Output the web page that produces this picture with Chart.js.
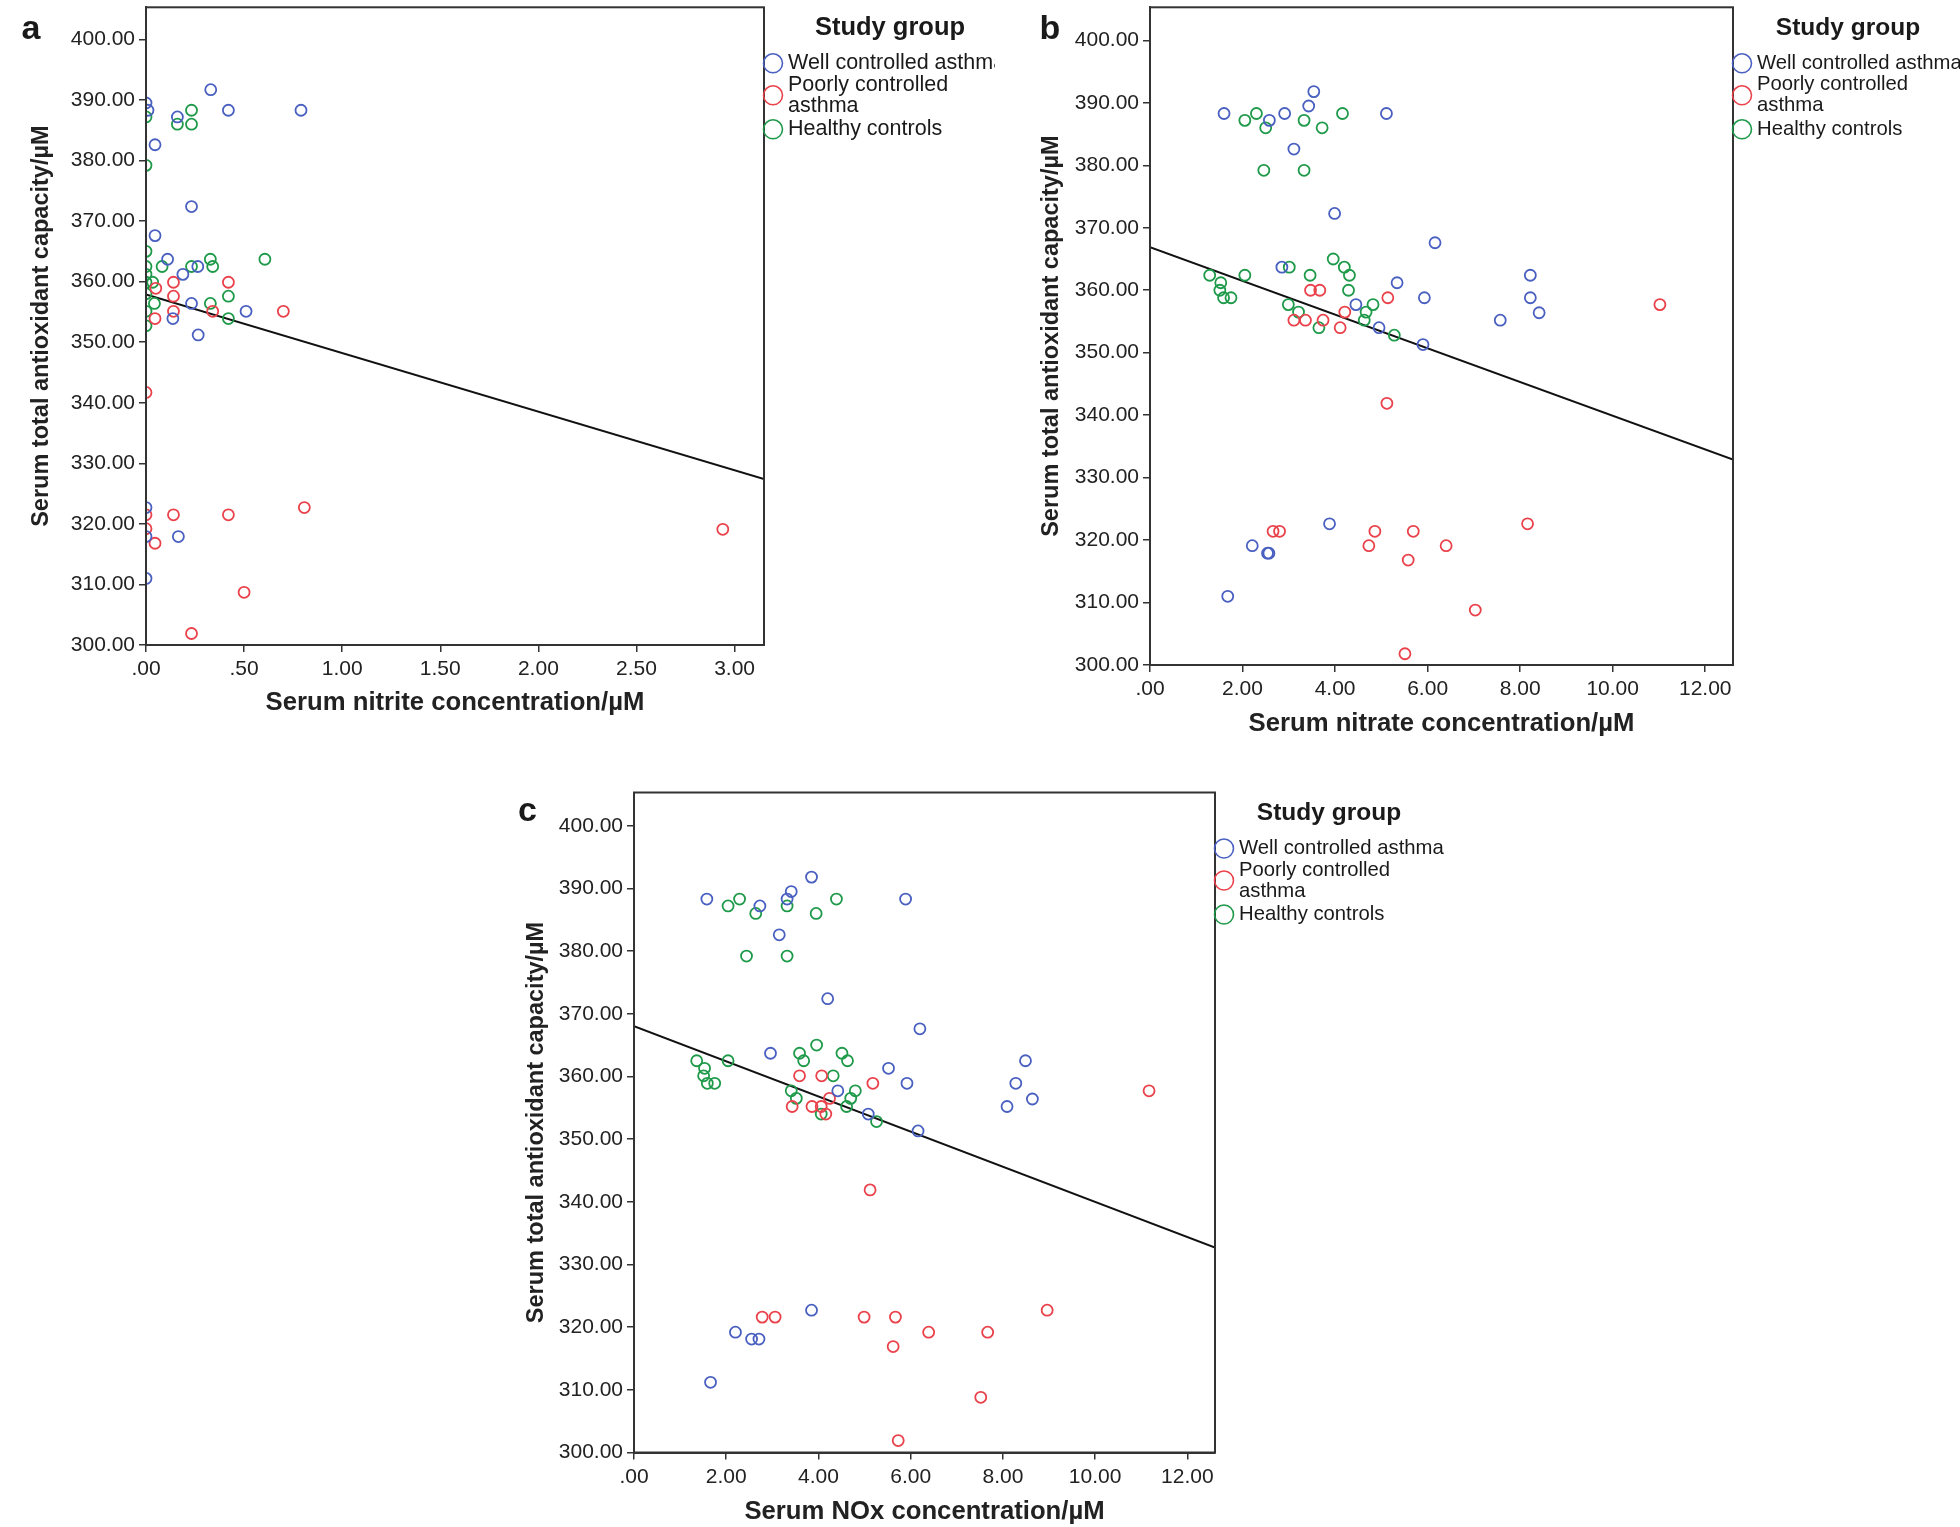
<!DOCTYPE html>
<html>
<head>
<meta charset="utf-8">
<title>Serum TAC vs nitrite, nitrate and NOx</title>
<script src="https://cdn.jsdelivr.net/npm/chart.js@4.4.1/dist/chart.umd.min.js"></script>
<style>
  html, body { margin: 0; padding: 0; background: #fff; }
  #page { position: relative; width: 1960px; height: 1527px; overflow: hidden; background: #fff; }
  canvas { position: absolute; }
</style>
</head>
<body>
<div id="page">
  <canvas id="chartA" width="995" height="740" style="left:0px;top:0px"></canvas>
  <canvas id="chartB" width="955" height="760" style="left:1005px;top:0px"></canvas>
  <canvas id="chartC" width="1000" height="747" style="left:500px;top:780px"></canvas>
</div>
<script>
// ---- values ----
const legendNames = ['Well controlled asthma', ['Poorly controlled', 'asthma'], 'Healthy controls'];
const groupColors = ['#4a60c0', '#e9424b', '#1f9a4a'];

const yTicks = [300, 310, 320, 330, 340, 350, 360, 370, 380, 390, 400];
const yRange = [300, 405.3];
const yTitle = 'Serum total antioxidant capacity/µM';

// panel a: nitrite
const xTicksA = [0, 0.5, 1, 1.5, 2, 2.5, 3];
const xRangeA = [0, 3.15];
const fitLineA = [357.9, 327.4];
const wellXA = [0.33, 0.42, 0.79, 0.00, 0.01, 0.16, 0.046, 0.232, 0.046, 0.11, 0.264, 0.188, 0.232, 0.137, 0.51, 0.266, 0.00, 0.00, 0.165, 0.00];
const wellYA = [391.7, 388.3, 388.3, 389.5, 388.3, 387.2, 382.6, 372.4, 367.6, 363.7, 362.5, 361.2, 356.4, 353.9, 355.1, 351.2, 322.7, 317.9, 317.9, 311.0];
const poorXA = [0.42, 0.14, 0.14, 0.05, 0.14, 0.34, 0.70, 0.046, 0.00, 0.00, 0.14, 0.42, 0.807, 0.00, 0.046, 0.50, 0.232, 2.94];
const poorYA = [359.9, 359.9, 357.6, 358.9, 355.1, 355.1, 355.1, 353.9, 341.7, 321.5, 321.5, 321.5, 322.7, 319.2, 316.8, 308.7, 301.9, 319.1];
const healthyXA = [0.232, 0.16, 0.232, 0.00, 0.00, 0.00, 0.00, 0.00, 0.00, 0.00, 0.034, 0.043, 0.00, 0.00, 0.082, 0.232, 0.328, 0.34, 0.606, 0.42, 0.328, 0.42];
const healthyYA = [388.3, 386.0, 386.0, 387.2, 379.2, 365.0, 362.5, 361.2, 359.9, 358.0, 359.9, 356.4, 355.1, 352.7, 362.5, 362.5, 363.7, 362.5, 363.7, 357.6, 356.4, 353.9];

// panel b: nitrate
const xTicksBC = [0, 2, 4, 6, 8, 10, 12];
const xRangeB = [0, 12.6];
const fitLineB = [366.9, 332.9];
const wellXB = [1.60, 2.58, 2.91, 3.43, 3.54, 5.11, 3.11, 3.99, 6.16, 2.85, 5.34, 4.45, 5.93, 4.95, 5.90, 3.88, 2.21, 2.54, 2.57, 1.68, 8.22, 8.22, 8.41, 7.57];
const wellYB = [388.3, 387.2, 388.3, 389.5, 391.8, 388.3, 382.6, 372.3, 367.6, 363.7, 361.2, 357.7, 358.8, 354.0, 351.3, 322.6, 319.1, 317.9, 317.9, 311.0, 362.4, 358.8, 356.4, 355.2];
const poorXB = [3.47, 3.67, 5.14, 4.21, 3.11, 3.36, 3.74, 4.11, 5.12, 2.66, 2.80, 4.86, 5.69, 4.73, 6.40, 5.58, 5.51, 11.02, 8.16, 7.03];
const poorYB = [360.0, 360.0, 358.8, 356.5, 355.2, 355.2, 355.2, 354.0, 341.9, 321.4, 321.4, 321.4, 321.4, 319.1, 319.1, 316.8, 301.8, 357.7, 322.6, 308.8];
const healthyXB = [2.05, 2.30, 2.50, 3.33, 3.72, 4.16, 2.46, 3.33, 3.96, 3.01, 4.20, 4.31, 3.46, 2.05, 1.29, 1.53, 1.51, 1.59, 1.75, 4.29, 2.99, 3.21, 3.65, 4.82, 4.67, 4.63, 5.28];
const healthyYB = [387.2, 388.3, 386.0, 387.2, 386.0, 388.3, 379.2, 379.2, 365.0, 363.7, 363.7, 362.4, 362.4, 362.4, 362.4, 361.2, 360.0, 358.8, 358.8, 360.0, 357.7, 356.5, 354.0, 357.7, 356.5, 355.2, 352.8];

// panel c: NOx
const xRangeC = [0, 12.6];
const fitLineC = [368.0, 332.7];
const wellXC = [1.58, 2.73, 3.32, 3.41, 3.85, 5.89, 3.15, 4.20, 6.20, 2.96, 5.52, 4.42, 5.92, 5.08, 6.16, 3.85, 2.20, 2.55, 2.71, 1.66, 8.49, 8.28, 8.64, 8.09];
const wellYC = [388.3, 387.2, 388.3, 389.5, 391.8, 388.3, 382.6, 372.4, 367.6, 363.7, 361.3, 357.7, 358.9, 354.0, 351.3, 322.7, 319.2, 318.1, 318.1, 311.2, 362.5, 358.9, 356.4, 355.2];
const poorXC = [3.59, 4.07, 5.18, 4.24, 3.43, 3.86, 4.06, 4.16, 5.12, 2.78, 3.06, 4.99, 5.67, 6.39, 5.62, 5.73, 11.17, 7.67, 8.96, 7.52];
const poorYC = [360.1, 360.1, 358.9, 356.5, 355.2, 355.2, 355.2, 354.0, 341.9, 321.6, 321.6, 321.6, 321.6, 319.2, 316.9, 301.9, 357.7, 319.2, 322.7, 308.8];
const healthyXC = [2.04, 2.29, 2.64, 3.32, 3.95, 4.39, 2.44, 3.32, 3.96, 3.59, 4.51, 4.63, 3.68, 2.04, 1.36, 1.53, 1.51, 1.59, 1.75, 4.32, 3.41, 3.52, 4.06, 4.80, 4.70, 4.61, 5.26];
const healthyYC = [387.2, 388.3, 386.0, 387.2, 386.0, 388.3, 379.2, 379.2, 365.0, 363.7, 363.7, 362.5, 362.5, 362.5, 362.5, 361.3, 360.1, 358.9, 358.9, 360.1, 357.7, 356.5, 354.0, 357.7, 356.5, 355.2, 352.8];

// ---- drawing ----
const FONT = '"Liberation Sans", Arial, sans-serif';
const tickFont = { family: FONT, size: 21 };
const xTitleFont = { family: FONT, size: 25.7, weight: 'bold' };
const yTitleFont = { family: FONT, size: 23.5, weight: 'bold' };

// SPSS style numbers: .00 .50 1.00 ...
const fmt = v => {
  const s = Number(v).toFixed(2);
  return s.startsWith('0.') ? s.slice(1) : s;
};

// box round the plot area (top and right sides are not axes)
const frame = {
  id: 'frame',
  afterDatasetsDraw(chart) {
    const { ctx, chartArea: a } = chart;
    ctx.save();
    ctx.strokeStyle = '#333';
    ctx.lineWidth = 2;
    ctx.strokeRect(a.left, a.top, a.right - a.left, a.bottom - a.top);
    ctx.restore();
  }
};

// "Study group" legend on the right + panel letter
const groupLegend = {
  id: 'groupLegend',
  afterDraw(chart, args, opts) {
    const { ctx, chartArea: a } = chart;
    const cx = a.right + 9;
    const tx = a.right + 24;
    ctx.save();
    ctx.fillStyle = '#1a1a1a';
    ctx.textBaseline = 'middle';

    ctx.font = 'bold 34px ' + FONT;
    ctx.textAlign = 'center';
    ctx.fillText(opts.letter, opts.letterX, opts.letterY);

    ctx.font = 'bold ' + opts.headSize + 'px ' + FONT;
    ctx.fillText('Study group', cx + opts.titleDx, a.top + 21);

    const rows = [56, 88, 122];
    ctx.font = opts.textSize + 'px ' + FONT;
    ctx.textAlign = 'left';
    legendNames.forEach((name, i) => {
      const y = a.top + rows[i];
      ctx.beginPath();
      ctx.arc(cx, y, 9.5, 0, Math.PI * 2);
      ctx.strokeStyle = groupColors[i];
      ctx.lineWidth = 1.6;
      ctx.stroke();
      if (Array.isArray(name)) {
        ctx.fillText(name[0], tx, y - 10.5);
        ctx.fillText(name[1], tx, y + 10.5);
      } else {
        ctx.fillText(name, tx, y);
      }
    });
    ctx.restore();
  }
};

function scatterPanel(canvasId, p) {
  const datasets = groupColors.map((color, i) => ({
    label: Array.isArray(legendNames[i]) ? legendNames[i].join(' ') : legendNames[i],
    data: p.xs[i].map((x, k) => ({ x: x, y: p.ys[i][k] })),
    borderColor: color,
    backgroundColor: 'rgba(0,0,0,0)',
    pointRadius: 5.5,
    pointHoverRadius: 5.5,
    pointBorderWidth: 1.8,
    clip: 0
  }));
  // fit line across the whole x range
  datasets.push({
    label: 'Fit line',
    data: p.xRange.map((x, k) => ({ x: x, y: p.fit[k] })),
    showLine: true,
    borderColor: '#111',
    borderWidth: 2,
    pointRadius: 0,
    pointHoverRadius: 0
  });

  return new Chart(document.getElementById(canvasId), {
    type: 'scatter',
    data: { datasets },
    plugins: [frame, groupLegend],
    options: {
      responsive: false,
      animation: false,
      devicePixelRatio: 1,
      layout: { padding: { left: 0, top: p.top, right: p.right, bottom: 0 } },
      plugins: {
        legend: { display: false },
        tooltip: { enabled: false },
        groupLegend: {
          letter: p.letter, letterX: p.letterX, letterY: p.letterY,
          titleDx: p.titleDx, headSize: p.headSize, textSize: p.textSize
        }
      },
      scales: {
        x: {
          type: 'linear',
          min: p.xRange[0],
          max: p.xRange[1],
          afterBuildTicks: s => { s.ticks = p.xTicks.map(v => ({ value: v })); },
          afterFit: s => { s.height = p.xAxisH; s.paddingLeft = 0; s.paddingRight = 0; },
          grid: { display: true, drawOnChartArea: false, drawTicks: true, tickLength: 7, color: '#333', lineWidth: 1.5 },
          border: { display: true, color: '#333', width: 2 },
          ticks: { callback: v => fmt(v), font: tickFont, color: '#222', padding: 5, maxRotation: 0, autoSkip: false },
          title: { display: true, text: p.xTitle, font: xTitleFont, color: '#222', padding: { top: 0, bottom: p.xTitlePad } }
        },
        y: {
          type: 'linear',
          min: yRange[0],
          max: yRange[1],
          afterBuildTicks: s => { s.ticks = yTicks.map(v => ({ value: v })); },
          afterFit: s => { s.width = p.yAxisW; s.paddingTop = 0; s.paddingBottom = 0; },
          grid: { display: true, drawOnChartArea: false, drawTicks: true, tickLength: 7, color: '#333', lineWidth: 1.5 },
          border: { display: true, color: '#333', width: 2 },
          ticks: { callback: v => fmt(v), font: tickFont, color: '#222', padding: 4, autoSkip: false },
          title: { display: true, text: yTitle, font: yTitleFont, color: '#222', padding: { top: p.yTitlePad, bottom: 0 } }
        }
      }
    }
  });
}

scatterPanel('chartA', {
  xs: [wellXA, poorXA, healthyXA], ys: [wellYA, poorYA, healthyYA],
  xTicks: xTicksA, xRange: xRangeA, fit: fitLineA,
  xTitle: 'Serum nitrite concentration/µM',
  top: 3, right: 231, yAxisW: 146, xAxisH: 95, yTitlePad: 27, xTitlePad: 22,
  letter: 'a', letterX: 31, letterY: 30, titleDx: 117, headSize: 25.5, textSize: 21.5
});

scatterPanel('chartB', {
  xs: [wellXB, poorXB, healthyXB], ys: [wellYB, poorYB, healthyYB],
  xTicks: xTicksBC, xRange: xRangeB, fit: fitLineB,
  xTitle: 'Serum nitrate concentration/µM',
  top: 3, right: 227, yAxisW: 145, xAxisH: 95, yTitlePad: 32, xTitlePad: 21,
  letter: 'b', letterX: 45, letterY: 30, titleDx: 106, headSize: 24.5, textSize: 20.3
});

scatterPanel('chartC', {
  xs: [wellXC, poorXC, healthyXC], ys: [wellYC, poorYC, healthyYC],
  xTicks: xTicksBC, xRange: xRangeC, fit: fitLineC,
  xTitle: 'Serum NOx concentration/µM',
  top: 12.5, right: 285, yAxisW: 134, xAxisH: 74.5, yTitlePad: 22, xTitlePad: 0,
  letter: 'c', letterX: 27.5, letterY: 32, titleDx: 105, headSize: 24.5, textSize: 20.3
});
</script>
</body>
</html>
